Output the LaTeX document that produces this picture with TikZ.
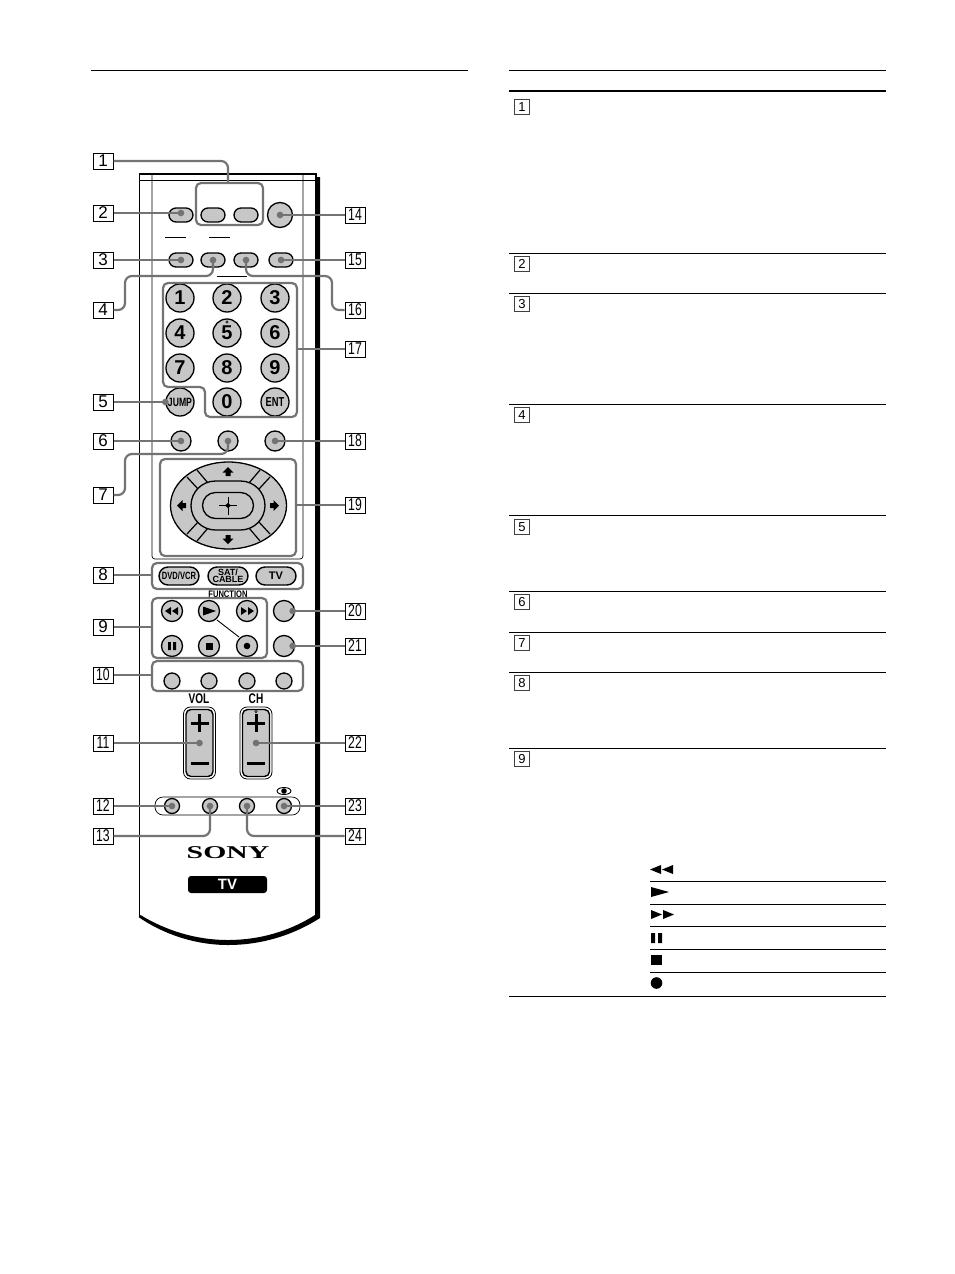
\documentclass[tikz,border=0pt]{standalone}
\usepackage{fontspec}
\usepackage{graphicx}
\setmainfont{Liberation Sans}
\newfontfamily\logofont{Liberation Serif}
\usetikzlibrary{arrows.meta,shapes.geometric,shapes.misc}
\definecolor{keygray}{gray}{0.78}
\definecolor{leadgray}{gray}{0.45}
\newcommand{\squeezed}[1]{\scalebox{0.72}[1]{#1}}
\tikzset{
	callout/.style={draw,line width=1pt,fill=white,minimum width=20pt,minimum height=16pt,inner sep=0pt,font=\fontsize{17}{17}\selectfont},
	rowbox/.style={draw=black!75,line width=0.9pt,fill=white,minimum width=15pt,minimum height=15pt,inner sep=0pt,font=\fontsize{13}{13}\selectfont},
	roundkey/.style={circle,draw,line width=1.3pt,fill=keygray,inner sep=0pt,minimum size=#1},
	ovalkey/.style={rounded rectangle,draw,line width=1.3pt,fill=keygray,inner sep=0pt,minimum width=24pt,minimum height=14pt},
	wideoval/.style={rounded rectangle,draw,line width=1.4pt,fill=keygray,inner sep=0pt,minimum width=40pt,minimum height=18pt,align=center,font=\bfseries\fontsize{9}{8}\selectfont},
	group/.style={draw=leadgray,line width=2.2pt,rounded corners=5pt},
	lead/.style={draw=leadgray,line width=2.2pt,rounded corners=7pt},
	dotlead/.style={lead,shorten >=-3.2pt,-{Circle[length=6.5pt,width=6.5pt]}},
	digit/.style={font=\bfseries\fontsize{20}{20}\selectfont},
	rule/.style={draw,line width=0.9pt},
}
\begin{document}
\begin{tikzpicture}[x=1pt,y=-1pt]
	\useasboundingbox (0,0) rectangle (954,1274);
	% page rules
	\draw[rule] (91,70) -- (468,70);
	\draw[rule] (509,70) -- (886,70);
	\draw[line width=2pt] (509,91) -- (886,91);
	\foreach \ypos in {253,293,404,515,591,632,672,748,996}
		\draw[rule] (509,\ypos) -- (886,\ypos);
	\foreach \ypos in {881,904,926,949,972}
		\draw[rule] (650,\ypos) -- (886,\ypos);
	\foreach \num/\ypos in {1/107,2/264,3/304,4/415,5/527,6/602,7/643,8/683,9/759}
		\node[rowbox] (row\num) at (522,\ypos) {\num};
	% transport symbols
	\fill (661,865) -- (650,869.5) -- (661,874) -- cycle (673,865) -- (662,869.5) -- (673,874) -- cycle;
	\fill (651,887) -- (669,892) -- (651,897) -- cycle;
	\fill (651,910) -- (662,914.5) -- (651,919) -- cycle (663,910) -- (674,914.5) -- (663,919) -- cycle;
	\fill (651,933) rectangle (655,943) (658,933) rectangle (662,943);
	\fill (651,955) rectangle (662,965);
	\fill (656.5,983) circle (5.8);
	% remote body
	\fill (315,177) -- (320,177) -- (320,918) .. controls (292,936) and (260,945) .. (228,945)
		.. controls (195,945) and (163,934) .. (138.5,917) -- (140.5,915) .. controls (165,930) and (195,940) .. (228,940)
		.. controls (260,940) and (290,931) .. (315,915) -- cycle;
	\draw[line width=1.8pt] (139.5,916) -- (139.5,174) -- (316,174) -- (316,178);
	\draw[line width=0.7pt] (140,180) -- (316,180);
	\draw[line width=0.7pt,rounded corners=3pt] (152,174) -- (152,559) -- (303,559) -- (303,174);
	\draw[line width=0.7pt] (165,237) -- (186,237) (209,237) -- (230,237);
	\draw[line width=0.7pt] (217,276) -- (247,276);
	\draw[line width=0.7pt,rounded corners=8pt] (155,797) rectangle (300,815);
	% top keys
	\node[ovalkey] (tvpower) at (181,215) {};
	\node[ovalkey] (keya) at (213,215) {};
	\node[ovalkey] (keyb) at (246,215) {};
	\node[roundkey=25pt] (power) at (280,215) {};
	\node[ovalkey] (keyc) at (181,260) {};
	\node[ovalkey] (keyd) at (213,260) {};
	\node[ovalkey] (keye) at (246,260) {};
	\node[ovalkey] (keyf) at (281,260) {};
	% number pad
	\foreach \lab/\xpos/\ypos in {1/180/298,2/227/298,3/275/298,4/180/333,5/227/333,6/275/333,7/180/368,8/227/368,9/275/368,0/227/402}
		\node[roundkey=28pt,digit] (num\lab) at (\xpos,\ypos) {\lab};
	\node[roundkey=28pt,font=\bfseries\fontsize{12}{12}\selectfont] (jump) at (180,402) {\squeezed{JUMP}};
	\node[roundkey=28pt,font=\bfseries\fontsize{13}{13}\selectfont] (ent) at (275,402) {\squeezed{ENT}};
	\node[circle,draw,line width=0.5pt,inner sep=0pt,minimum size=2.5pt] (dotfive) at (227,322) {};
	\node[roundkey=20pt] (keyg) at (181,441) {};
	\node[roundkey=20pt] (keyh) at (228,441) {};
	\node[roundkey=20pt] (keyi) at (275,441) {};
	% cursor pad
	\node[ellipse,draw,line width=1.3pt,fill=keygray,inner sep=0pt,minimum width=116pt,minimum height=87pt] (pad) at (228.5,505.5) {};
	\draw[line width=1.2pt] (197,470) -- (208,483) (187,477) -- (198,489) (260,470) -- (249,483) (270,477) -- (259,489);
	\draw[line width=1.2pt] (197,541) -- (208,528) (187,534) -- (198,522) (260,541) -- (249,528) (270,534) -- (259,522);
	\node[rounded rectangle,draw,line width=1.3pt,fill=keygray,inner sep=0pt,minimum width=74pt,minimum height=49pt] (ring) at (228,505.5) {};
	\node[rounded rectangle,draw,line width=1.3pt,fill=keygray,inner sep=0pt,minimum width=51pt,minimum height=26pt] (enter) at (228,505.5) {};
	\draw[line width=0.6pt] (219,505.5) -- (237,505.5) (228,497) -- (228,515);
	\fill (228,503) -- (231,505.5) -- (228,508) -- (225,505.5) -- cycle;
	\foreach \ang/\xpos/\ypos in {0/228/472,180/228/539,90/182/505.5,-90/274/505.5}
		\fill[shift={(\xpos,\ypos)},rotate=\ang] (0,-5) -- (5.5,0.5) -- (2.5,0.5) -- (2.5,4) -- (-2.5,4) -- (-2.5,0.5) -- (-5.5,0.5) -- cycle;
	% function keys
	\node[wideoval,font=\bfseries\fontsize{10.5}{10.5}\selectfont] (dvd) at (179,576) {\squeezed{DVD/VCR}};
	\node[wideoval] (sat) at (228,576) {SAT/\\[-1pt]CABLE};
	\node[wideoval,font=\bfseries\fontsize{11}{11}\selectfont] (tvkey) at (276,576) {TV};
	\node[inner sep=0.5pt,font=\bfseries\fontsize{9.5}{9.5}\selectfont] (function) at (228,594) {\scalebox{0.8}[1]{FUNCTION}};
	% transport keys
	\foreach \name/\xpos/\ypos in {rew/172/611,play/209/611,ffwd/247/611,pause/172/646,stop/209/646,rec/247/646}
		\node[roundkey=21pt] (\name) at (\xpos,\ypos) {};
	\draw[line width=0.9pt] (play) ++(8,9) -- ([shift={(-8,-9)}]rec.center);
	\fill (171,607) -- (165,611) -- (171,615) -- cycle (178,607) -- (172,611) -- (178,615) -- cycle;
	\fill (203,606.5) -- (216,611) -- (203,615.5) -- cycle;
	\fill (241,607) -- (247,611) -- (241,615) -- cycle (248,607) -- (254,611) -- (248,615) -- cycle;
	\fill (168,642) rectangle (170.8,650) (173.2,642) rectangle (176,650);
	\fill (205.5,642.5) rectangle (212.5,649.5);
	\fill (247,646) circle (3.3);
	\node[roundkey=21pt] (keyj) at (284,611) {};
	\node[roundkey=21pt] (keyk) at (284,646) {};
	\foreach \name/\xpos in {cola/172,colb/209,colc/247,cold/284}
		\node[roundkey=16pt] (\name) at (\xpos,681) {};
	% rockers
	\node[font=\bfseries\fontsize{14}{14}\selectfont] (vollab) at (199,699) {\squeezed{VOL}};
	\node[font=\bfseries\fontsize{14}{14}\selectfont] (chlab) at (256,699) {\squeezed{CH}};
	\foreach \name/\xpos in {vol/199.5,chan/256}{
		\draw[line width=0.8pt,rounded corners=7pt] (\xpos-16,707) rectangle (\xpos+16,779);
		\node[draw,line width=1.4pt,fill=keygray,rounded corners=5pt,inner sep=0pt,minimum width=27pt,minimum height=67pt] (\name) at (\xpos,743) {};
		\draw[line width=3pt] (\xpos-9,723) -- (\xpos+9,723) (\xpos,714) -- (\xpos,732) (\xpos-9,763) -- (\xpos+9,763);
	}
	\node[circle,draw,line width=0.5pt,inner sep=0pt,minimum size=2.5pt] (dotch) at (256,711.5) {};
	% bottom keys
	\foreach \name/\xpos in {keyl/172,keym/210,keyn/247,keyo/284}
		\node[roundkey=15pt] (\name) at (\xpos,806) {};
	\node[ellipse,draw,line width=0.9pt,inner sep=0pt,minimum width=14pt,minimum height=7pt] (eye) at (284,791) {};
	\fill (284,791) circle (2.8);
	\node[font=\logofont\bfseries\fontsize{18}{18}\selectfont] (sony) at (228,853) {\scalebox{1.65}[1]{SONY}};
	\node[fill=black,text=white,rounded corners=3pt,inner sep=0pt,minimum width=79pt,minimum height=17pt,font=\bfseries\fontsize{15}{15}\selectfont] (badge) at (227.5,884.5) {TV};
	% groups
	\draw[group] (196,183) rectangle (263,225);
	\coordinate (topgroup) at (228,183);
	\draw[group] (163,283) -- (297,283) -- (297,417) -- (205,417) -- (205,387) -- (163,387) -- cycle;
	\coordinate (padgroup) at (297,349);
	\draw[group] (160,459) rectangle (296,556);
	\coordinate (cursorgroup) at (296,505);
	\draw[group] (152,563) rectangle (303,589);
	\coordinate (funcgroup) at (152,575);
	\draw[group] (152,598) rectangle (267,658);
	\coordinate (transgroup) at (152,627);
	\draw[group] (152,661) rectangle (303,691);
	\coordinate (colgroup) at (152,675);
	% callouts
	\foreach \num/\ypos in {1/161,2/213,3/260,4/310,5/402,6/441,7/495,8/575,9/627}
		\node[callout] (n\num) at (103,\ypos) {\num};
	\foreach \num/\ypos in {10/675,11/743,12/806,13/836}
		\node[callout] (n\num) at (103,\ypos) {\squeezed{\num}};
	\foreach \num/\ypos in {14/215,15/260,16/310,17/349,18/441,19/505,20/611,21/646,22/743,23/806,24/836}
		\node[callout] (n\num) at (355,\ypos) {\squeezed{\num}};
	% leads
	\draw[lead] (n1) -| (topgroup);
	\draw[dotlead] (n2) -- (tvpower.center |- n2);
	\draw[dotlead] (n3) -- (keyc.center);
	\draw[dotlead] (n4) -- (125,310) -- (125,276) -- (213,276) -- (keyd.center);
	\draw[dotlead] (n5) -- (jump.west);
	\draw[dotlead] (n6) -- (keyg.center);
	\draw[dotlead] (n7) -- (125,495) -- (125,454) -- (228,454) -- (keyh.center);
	\draw[lead] (n8) -- (funcgroup);
	\draw[lead] (n9) -- (transgroup);
	\draw[lead] (n10) -- (colgroup);
	\draw[dotlead] (n11) -- (vol.center);
	\draw[dotlead] (n12) -- (keyl.center);
	\draw[dotlead] (n13) -| (keym.center);
	\draw[dotlead] (n14) -- (power.center);
	\draw[dotlead] (n15) -- (keyf.center);
	\draw[dotlead] (n16) -- (332,310) -- (332,276) -- (246,276) -- (keye.center);
	\draw[lead] (n17) -- (padgroup);
	\draw[dotlead] (n18) -- (keyi.center);
	\draw[lead] (n19) -- (cursorgroup);
	\draw[dotlead] (n20) -- ([xshift=-2.5pt]keyj.east);
	\draw[dotlead] (n21) -- ([xshift=-2.5pt]keyk.east);
	\draw[dotlead] (n22) -- (chan.center);
	\draw[dotlead] (n23) -- (keyo.center);
	\draw[dotlead] (n24) -| (keyn.center);
\end{tikzpicture}
\end{document}
